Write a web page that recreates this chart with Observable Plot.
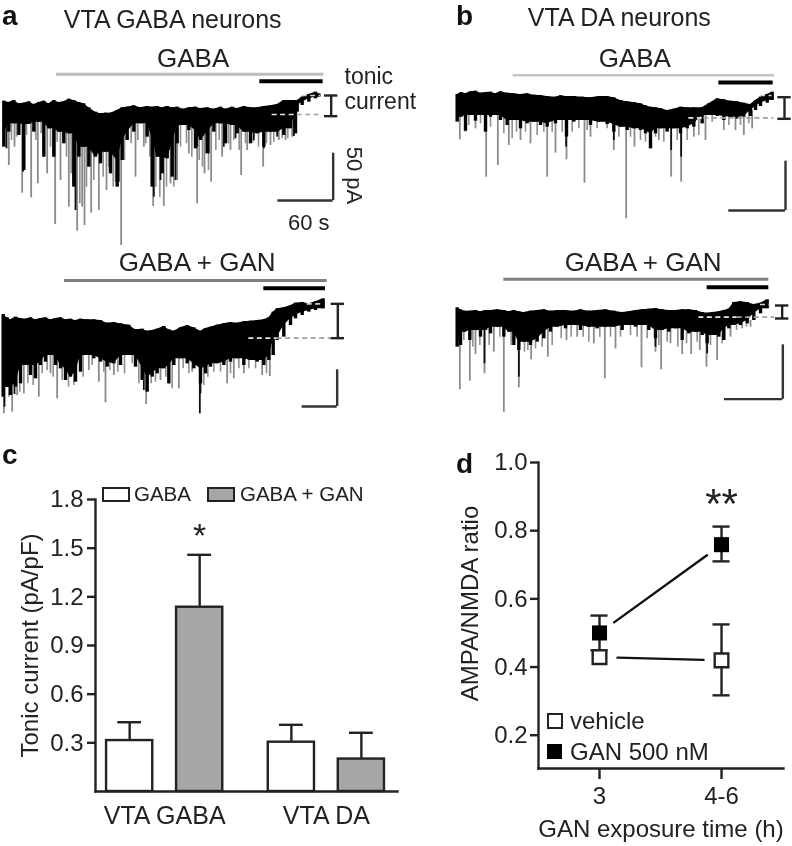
<!DOCTYPE html>
<html><head><meta charset="utf-8">
<script src="https://cdn.jsdelivr.net/npm/d3@7"></script>
<script src="https://cdn.jsdelivr.net/npm/@observablehq/plot@0.6"></script>
<style>
html,body{margin:0;padding:0;background:#fff}
#fig{position:relative;width:792px;height:846px;overflow:hidden;font-family:"Liberation Sans",Arial,sans-serif;color:#222;filter:blur(0.45px)}
#fig>svg,#fig>div{position:absolute}
.box{box-sizing:border-box;border:2.5px solid #222}
.lg{font-size:24px;line-height:24px;white-space:nowrap}
.pl{font-weight:bold;font-size:28px;color:#111;line-height:28px}
</style></head><body><div id="fig"></div>
<script>
// ---- recordings: [time, upper edge, lower edge] in trace units (1/3 px), depth grows downward
const a1Body=[[10,302,440],[25,306,395],[40,300,370],[55,310,405],[70,308,510],[85,304,372],[100,312,395],[115,306,365],[130,302,470],[145,310,385],[160,300,470],[175,306,395],[190,304,430],[205,296,400],[220,300,560],[235,306,470],[250,310,440],[265,322,500],[285,335,470],[300,340,490],[315,338,455],[330,338,520],[350,330,560],[365,322,480],[380,320,420],[400,316,395],[420,322,370],[440,318,410],[455,320,560],[470,318,470],[485,322,520],[500,318,475],[515,322,530],[530,320,430],[550,326,375],[565,322,390],[585,320,445],[600,324,420],[620,322,460],[640,326,395],[660,320,370],[675,326,430],[695,320,375],[710,324,400],[730,318,395],[750,322,430],[770,322,400],[790,318,440],[810,316,395],[830,312,395],[850,300,405],[870,300,385],[885,300,400],[890,300,335],[905,290,315],[925,282,305],[945,275,295],[955,280,290]];
const a1Grey=[[25,495],[42,440],[65,578],[92,592],[112,550],[140,520],[164,672],[180,540],[205,620],[218,550],[230,692],[245,620],[252,675],[272,638],[295,630],[318,570],[345,545],[362,735],[405,530],[430,440],[458,618],[490,618],[510,550],[530,540],[565,460],[590,610],[612,520],[632,545],[665,470],[690,450],[722,525],[740,450],[788,500],[810,435],[835,420],[855,420],[875,410]];
const a1Fringe=[[33,420],[48,410],[78,405],[106,420],[122,400],[150,440],[170,425],[198,470],[212,520],[226,600],[238,610],[258,560],[280,540],[308,530],[325,500],[338,560],[372,480],[392,430],[412,420],[436,430],[448,470],[466,560],[478,590],[498,560],[520,560],[540,440],[558,430],[574,470],[596,480],[606,500],[624,510],[646,450],[656,420],[684,430],[700,420],[716,450],[735,430],[758,425],[774,440],[798,430],[820,425],[845,415],[862,415]];
const a1Black=[[18,445],[68,515],[130,470],[160,470],[225,630],[300,480],[355,545],[460,590],[480,540],[525,540],[590,440],[625,460],[670,440],[705,415],[760,420],[790,445],[830,410],[880,408]];
const a2Body=[[8,222,470],[20,232,440],[30,238,465],[45,230,440],[60,234,430],[75,236,375],[90,232,405],[105,238,415],[120,234,375],[135,232,365],[150,238,345],[165,234,375],[180,232,385],[195,238,420],[210,236,410],[225,240,425],[240,236,395],[260,238,345],[280,238,355],[300,240,365],[320,248,380],[340,246,370],[360,250,375],[385,254,345],[405,268,380],[425,266,420],[440,272,455],[455,270,410],[470,266,400],[490,258,385],[505,268,430],[520,272,375],[540,262,355],[560,255,370],[580,262,385],[600,272,430],[615,264,400],[630,260,380],[650,254,370],[670,250,375],[690,246,365],[710,248,355],[730,244,375],[750,242,360],[770,240,365],[790,238,375],[805,232,360],[818,215,345],[830,205,300],[850,202,290],[870,196,255],[885,188,235],[905,186,225],[925,190,215],[945,184,210],[968,175,205]];
const a2Grey=[[10,520],[35,515],[50,465],[70,460],[115,470],[150,400],[170,475],[265,390],[295,425],[315,487],[340,405],[437,492],[480,420],[535,445],[575,395],[680,430],[700,415],[730,400],[785,405],[808,408]];
const a2Fringe=[[25,470],[58,455],[82,430],[98,435],[125,400],[140,390],[158,410],[185,420],[204,440],[220,435],[248,410],[275,375],[310,395],[328,390],[352,395],[372,400],[395,370],[415,430],[452,430],[465,425],[496,410],[515,445],[548,385],[565,400],[610,435],[622,410],[640,395],[660,395],[690,400],[715,385],[745,385],[765,385],[798,400]];
const a2Black=[[12,500],[42,462],[598,520],[430,450],[600,460],[505,430]];
const b1Body=[[50,282,365],[62,276,350],[75,280,392],[90,274,345],[105,272,362],[120,278,345],[135,276,395],[150,275,350],[165,280,345],[180,274,360],[200,278,375],[220,280,360],[240,282,385],[260,280,370],[280,284,365],[300,285,375],[320,288,380],[345,290,370],[360,286,360],[378,288,410],[400,288,365],[425,290,360],[450,292,375],[475,288,365],[500,288,372],[520,292,395],[540,300,380],[560,304,390],[580,306,385],[600,310,390],[615,316,400],[630,320,445],[645,322,400],[660,324,385],[680,330,395],[700,326,385],[720,320,400],[740,322,385],[760,322,380],[785,322,370],[805,310,345],[830,295,348],[850,298,360],[870,302,350],[890,304,356],[910,308,350],[930,312,348],[945,300,330],[960,290,318],[980,282,308],[995,275,300]];
const b1Grey=[[58,418],[75,395],[105,385],[137,530],[172,495],[205,435],[240,420],[270,430],[320,530],[345,458],[378,478],[432,548],[450,410],[520,450],[557,655],[582,440],[630,445],[655,420],[692,530],[722,545],[760,410],[795,420],[850,390],[885,390],[910,405],[935,385]];
const b1Fringe=[[85,375],[120,370],[150,380],[190,400],[215,415],[228,395],[255,395],[290,405],[310,395],[335,395],[365,395],[395,395],[415,385],[440,390],[470,385],[500,385],[535,410],[570,410],[600,420],[615,425],[645,410],[670,425],[710,420],[740,420],[775,405],[815,365],[865,375],[900,375],[925,370]];
const b1Black=[[377,440],[630,440],[520,420],[692,450],[722,470]];
const b2Body=[[50,232,350],[60,238,345],[72,242,305],[88,242,330],[105,240,300],[120,244,320],[135,240,300],[150,240,310],[170,238,290],[190,240,320],[205,244,305],[220,240,345],[235,244,360],[250,246,335],[270,242,345],[290,240,335],[310,238,325],[330,242,305],[350,240,290],[375,240,295],[400,242,285],[420,238,300],[445,242,290],[470,240,295],[495,238,290],[520,242,290],[545,246,300],[565,244,285],[585,240,290],[605,238,285],[625,236,300],[645,234,325],[665,238,300],[685,240,305],[705,240,295],[725,238,330],[745,238,310],[765,240,305],[785,246,315],[800,248,340],[815,246,315],[835,244,320],[850,240,330],[865,236,295],[880,216,285],[900,214,285],[920,216,280],[940,222,270],[960,218,250],[980,208,235]];
const b2Grey=[[58,478],[88,452],[105,372],[132,430],[160,365],[190,545],[235,472],[272,388],[322,380],[378,330],[410,320],[460,340],[493,445],[525,355],[603,412],[645,365],[662,418],[690,340],[725,372],[752,372],[778,360],[798,410],[830,390],[870,320],[905,295],[930,290]];
const b2Fringe=[[70,330],[97,350],[118,345],[146,345],[178,320],[212,345],[252,365],[262,360],[285,355],[305,350],[335,345],[362,325],[392,320],[428,320],[445,335],[478,320],[510,320],[540,320],[570,315],[590,320],[620,325],[655,345],[680,335],[712,350],[738,340],[770,335],[810,345],[845,340],[888,300],[918,290]];
const b2Black=[[132,400],[235,440],[800,370],[645,350]];
// ---- annotations of each recording: [t1,t2,level]
const a1Drug=[168,970,221], a1Win=[778,968,242], a1Base=[[815,890,342,"#e8e8e8"],[890,962,342,"#a0a0a0"],[905,960,285,"#d0d0d0"]];
const a2Drug=[192,980,120], a2Win=[790,975,143], a2Base=[[745,830,293,"#e8e8e8"],[830,992,293,"#a0a0a0"],[920,970,190,"#d0d0d0"]];
const b1Drug=[218,1002,224], b1Win=[835,998,246], b1Base=[[745,790,352,"#e8e8e8"],[790,1000,352,"#a0a0a0"],[960,995,285,"#d0d0d0"]];
const b2Drug=[190,985,146], b2Win=[800,985,170], b2Base=[[775,890,260,"#e8e8e8"],[890,1002,260,"#a0a0a0"],[960,990,222,"#d0d0d0"]];
// tonic bracket [t,level1,level2]; scale bar [t1,t2,level1,level2]
const a1Tonic=[992,285,347], a2Tonic=[1012,190,293], b1Tonic=[1032,290,355], b2Tonic=[1025,225,264];
const a1Scale=[832,998,458,600], a2Scale=[905,1010,388,498], b1Scale=[865,1035,482,630], b2Scale=[852,1027,343,506];
// ---- panel c
const cGroups=["VTA GABA","VTA DA"];
const cConds=["GABA","GABA + GAN"];
const cGroup=[0,0,1,1], cCond=[0,1,0,1];
const cMean=[0.314,1.136,0.304,0.20];
const cErr=[0.427,1.459,0.411,0.362];
const cTicks=[0.3,0.6,0.9,1.2,1.5,1.8];
// ---- panel d
const dTimes=["3","4-6"];
const dVehicle=[0.429,0.4195], dVehHi=[0.45,0.525], dVehLo=[0.41,0.317];
const dGan=[0.50,0.759], dGanHi=[0.551,0.812], dGanLo=[0.449,0.71];
const dTicks=[0.2,0.4,0.6,0.8,1.0];

const INK="#222", FONT='"Liberation Sans",Arial,sans-serif', LW=2.4;
const fig=document.getElementById("fig");
function place(el,left,top){el.style.left=left+"px";el.style.top=top+"px";fig.appendChild(el);return el;}
function html(cls,text,left,top,extra){const d=document.createElement("div");d.className=cls;d.textContent=text;if(extra)Object.assign(d.style,extra);return place(d,left,top);}

function trace(o){
  const bars=[{a:o.drug,c:o.drugColor,w:o.drugW},{a:o.win,c:"#000",w:4}];
  const [sx1,sx2,sy1,sy2]=o.scale, [bx,by1,by2]=o.tonic, cap=20;
  // the solid core of the noise band: the shallowest lower edge around each reading
  const core=o.body.map((d,i)=>[d[0],d[1],Math.min(d[2],(o.body[i-1]||d)[2],(o.body[i+1]||d)[2])]);
  const labelMark=(rows,anchor)=>Plot.text(rows,{x:d=>d[0],y:d=>d[1],text:d=>d[2],textAnchor:anchor,rotate:d=>d[3]||0,fontSize:d=>d[4]||26,lineAnchor:"bottom",fill:INK});
  const svg=Plot.plot({
    width:o.w,height:o.h,margin:0,
    style:{background:"transparent",overflow:"visible",fontFamily:FONT},
    x:{domain:[0,o.w*3],range:[0,o.w],axis:null},
    y:{domain:[o.h*3,0],range:[o.h,0],axis:null},
    marks:[
      Plot.ruleX(o.grey,{x:d=>d[0],y1:o.base,y2:d=>d[1],stroke:"#8a8a8a",strokeWidth:1.8}),
      Plot.ruleX(o.fringe,{x:d=>d[0],y1:o.base,y2:d=>d[1],stroke:"#8f8f8f",strokeWidth:1.6}),
      Plot.ruleX(o.black,{x:d=>d[0],y1:o.base,y2:d=>d[1],stroke:"#111",strokeWidth:1.8}),
      Plot.areaY(core,{x:d=>d[0],y1:d=>d[1],y2:d=>d[2],fill:"#000"}),
      Plot.ruleX(o.body,{x:d=>d[0],y1:d=>d[1],y2:d=>d[2],stroke:"#000",strokeWidth:3.4}),
      Plot.ruleY(bars,{y:d=>d.a[2],x1:d=>d.a[0],x2:d=>d.a[1],stroke:d=>d.c,strokeWidth:d=>d.w}),
      Plot.ruleY(o.dash,{y:d=>d[2],x1:d=>d[0],x2:d=>d[1],stroke:d=>d[3],strokeWidth:1.6,strokeDasharray:"5 3.5"}),
      Plot.ruleX([bx],{y1:by1,y2:by2,stroke:INK,strokeWidth:LW}),
      Plot.ruleY([by1,by2],{x1:bx-cap,x2:bx+cap,stroke:INK,strokeWidth:LW}),
      Plot.ruleX([sx2],{y1:sy1,y2:sy2,stroke:"#333",strokeWidth:LW}),
      Plot.ruleY([sy2],{x1:sx1,x2:sx2,stroke:"#333",strokeWidth:LW}),
      labelMark(o.labels,"middle"),
      labelMark(o.starts||[],"start")
    ]});
  place(svg,o.left,o.top);
}
trace({left:0,top:0,w:400,h:250,body:a1Body,grey:a1Grey,fringe:a1Fringe,black:a1Black,base:345,drug:a1Drug,drugColor:"#bdbdbd",drugW:3,win:a1Win,dash:a1Base,tonic:a1Tonic,scale:a1Scale,
  labels:[[578,198,"GABA"],[925,688,"60 s",0,22],[1040,525,"50 pA",90,22]],
  starts:[[190,82,"VTA GABA neurons",0,25],[1032,250,"tonic",0,23],[1032,325,"current",0,23]]});
trace({left:0,top:240,w:400,h:190,body:a2Body,grey:a2Grey,fringe:a2Fringe,black:a2Black,base:300,drug:a2Drug,drugColor:"#808080",drugW:3,win:a2Win,dash:a2Base,tonic:a2Tonic,scale:a2Scale,
  labels:[[590,92,"GABA + GAN"]]});
trace({left:440,top:0,w:352,h:220,body:b1Body,grey:b1Grey,fringe:b1Fringe,black:b1Black,base:330,drug:b1Drug,drugColor:"#c4c4c4",drugW:2.5,win:b1Win,dash:b1Base,tonic:b1Tonic,scale:b1Scale,
  labels:[[583,200,"GABA"]],starts:[[262,75,"VTA DA neurons",0,25]]});
trace({left:440,top:230,w:352,h:190,body:b2Body,grey:b2Grey,fringe:b2Fringe,black:b2Black,base:270,drug:b2Drug,drugColor:"#808080",drugW:3,win:b2Win,dash:b2Base,tonic:b2Tonic,scale:b2Scale,
  labels:[[608,120,"GABA + GAN"]]});

// panel c
const GROUP_GAP=2.31, BAR=0.33, CAP=0.17;
const cRows=cMean.map((m,i)=>({slot:cGroup[i]*GROUP_GAP+cCond[i],mean:m,err:cErr[i],cond:cConds[cCond[i]]}));
const cLab=[[0.5,cGroups[0]],[0.5+GROUP_GAP,cGroups[1]]];
place(Plot.plot({
  width:400,height:406,marginLeft:95,marginRight:3,marginTop:59,marginBottom:55,
  style:{background:"transparent",overflow:"visible",fontFamily:FONT,color:INK},
  x:{domain:[-0.488,3.826],axis:null},
  y:{domain:[0,1.8],axis:null},
  marks:[
    Plot.ruleX(cRows,{x:"slot",y1:"mean",y2:"err",stroke:INK,strokeWidth:LW}),
    Plot.ruleY(cRows,{y:"err",x1:d=>d.slot-CAP,x2:d=>d.slot+CAP,stroke:INK,strokeWidth:LW}),
    Plot.rectY(cRows,{x1:d=>d.slot-BAR,x2:d=>d.slot+BAR,y:"mean",fill:d=>d.cond===cConds[0]?"#fff":"#a6a6a6",stroke:INK,strokeWidth:LW}),
    Plot.frame({anchor:"left",stroke:INK,strokeWidth:LW}),
    Plot.frame({anchor:"bottom",stroke:INK,strokeWidth:LW}),
    Plot.axisY({ticks:cTicks,tickFormat:d3.format(".1f"),tickSize:8,tickPadding:4,fontSize:24,strokeWidth:LW,label:"Tonic current (pA/pF)",labelAnchor:"center",labelArrow:"none",labelOffset:75}),
    Plot.text(cLab,{x:d=>d[0],y:0,text:d=>d[1],dy:32,lineAnchor:"bottom",fontSize:25,fill:INK}),
    Plot.text(cRows.filter(d=>d.mean>1),{x:"slot",y:"err",text:()=>"*",dy:-8,lineAnchor:"bottom",fontSize:34,fill:INK})
  ]}),0,440);
html("box","",102,487,{width:"28px",height:"15px",background:"#fff"});
html("lg",cConds[0],134,482,{fontSize:"20.5px",lineHeight:"24px"});
html("box","",207,487,{width:"28px",height:"15px",background:"#a6a6a6"});
html("lg",cConds[1],240,482,{fontSize:"20.5px",lineHeight:"24px"});

// panel d: x is the index of dTimes
const dVeh=dTimes.map((t,i)=>({t:i,v:dVehicle[i],hi:dVehHi[i],lo:dVehLo[i]}));
const dG=dTimes.map((t,i)=>({t:i,v:dGan[i],hi:dGanHi[i],lo:dGanLo[i]}));
const seg=r=>[{x1:r[0].t,y1:r[0].v,x2:r[1].t,y2:r[1].v}];
const DCAP=0.07;
const errMarks=(rows,capRows)=>[
  Plot.ruleX(rows,{x:"t",y1:"lo",y2:"hi",stroke:INK,strokeWidth:LW}),
  Plot.ruleY(capRows,{y:"hi",x1:d=>d.t-DCAP,x2:d=>d.t+DCAP,stroke:INK,strokeWidth:LW}),
  Plot.ruleY(capRows,{y:"lo",x1:d=>d.t-DCAP,x2:d=>d.t+DCAP,stroke:INK,strokeWidth:LW})];
place(Plot.plot({
  width:352,height:406,marginLeft:98,marginRight:9,marginTop:22,marginBottom:78,
  style:{background:"transparent",overflow:"visible",fontFamily:FONT,color:INK},
  x:{domain:[-0.5,1.508],axis:null},
  y:{domain:[0.1024,1],axis:null},
  marks:[
    Plot.frame({anchor:"left",stroke:INK,strokeWidth:LW}),
    Plot.frame({anchor:"bottom",stroke:INK,strokeWidth:LW}),
    Plot.arrow([...seg(dVeh),...seg(dG)],{x1:"x1",y1:"y1",x2:"x2",y2:"y2",bend:0,headLength:0,inset:18,stroke:"#111",strokeWidth:LW}),
    ...errMarks(dG,dG),
    ...errMarks(dVeh,dVeh.slice(1)),
    Plot.dot(dG,{x:"t",y:"v",symbol:"square",r:8.5,fill:"#000"}),
    Plot.dot(dVeh,{x:"t",y:"v",symbol:"square",r:7.7,fill:"#fff",stroke:INK,strokeWidth:LW}),
    Plot.axisY({ticks:dTicks,tickFormat:d3.format(".1f"),tickSize:8,tickPadding:3,fontSize:24,strokeWidth:LW,label:null}),
    Plot.text(["AMPA/NMDA ratio"],{frameAnchor:"left",textAnchor:"middle",rotate:-90,dx:-68,dy:-12,fontSize:24,fill:INK}),
    Plot.axisX({ticks:[0,1],tickFormat:i=>dTimes[i],tickSize:11,tickPadding:7,fontSize:24,strokeWidth:LW,label:"GAN exposure time (h)",labelAnchor:"center",labelArrow:"none",labelOffset:68}),
    Plot.text(dG.slice(1),{x:"t",y:"hi",text:()=>"**",dy:-9,lineAnchor:"bottom",fontSize:42,fill:INK})
  ]}),440,440);
html("box","",547,713,{width:"16px",height:"16px",background:"#fff"});
html("lg","vehicle",570,709);
html("box","",547,744,{width:"15px",height:"15px",background:"#000",border:"none"});
html("lg","GAN 500 nM",570,740);

// panel letters
html("pl","a",2,2); html("pl","b",456,2); html("pl","c",2,441); html("pl","d",456,450);
</script></body></html>
